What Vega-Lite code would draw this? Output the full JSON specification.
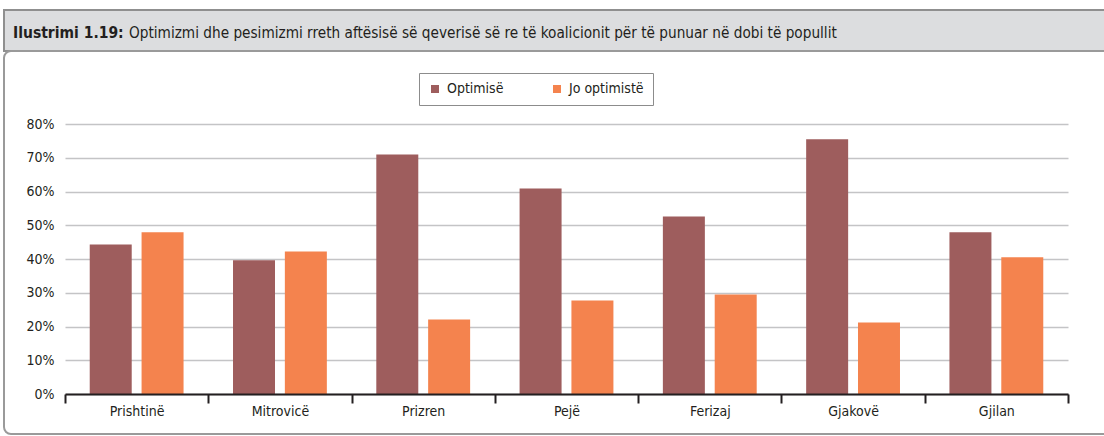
{
  "$schema": "https://vega.github.io/schema/vega-lite/v6.json",
  "background": "white",
  "padding": {"left": 3, "top": 9, "right": 0, "bottom": 0},
  "spacing": 0,
  "bounds": "flush",
  "config": {"font": "DejaVu Sans Condensed", "concat": {"spacing": 0}},
  "vconcat": [
    {
      "width": 1110,
      "height": 41,
      "view": {"fill": "#dcdddf", "stroke": "#8f8f8f", "strokeWidth": 2},
      "data": {"values": [{"bold": "Ilustrimi 1.19:", "rest": "Optimizmi dhe pesimizmi rreth aftësisë së qeverisë së re të koalicionit për të punuar në dobi të popullit"}]},
      "layer": [
        {
          "mark": {"type": "text", "x": 9, "y": 28, "align": "left", "baseline": "alphabetic", "font": "DejaVu Sans Condensed", "fontSize": 15.5, "fontWeight": "bold", "color": "#231f20"},
          "encoding": {"text": {"field": "bold"}}
        },
        {
          "mark": {"type": "text", "x": 125, "y": 28, "align": "left", "baseline": "alphabetic", "font": "DejaVu Sans Condensed", "fontSize": 15.2, "fontWeight": "normal", "color": "#231f20"},
          "encoding": {"text": {"field": "rest"}}
        }
      ]
    },
    {
      "width": 1110,
      "height": 383,
      "view": {"fill": "white", "stroke": "#9a9a9a", "strokeWidth": 2, "cornerRadius": 7},
      "data": {"values": [
        {"city": "Prishtinë", "series": "Optimisë", "value": 44.3},
        {"city": "Prishtinë", "series": "Jo optimistë", "value": 47.9},
        {"city": "Mitrovicë", "series": "Optimisë", "value": 39.6},
        {"city": "Mitrovicë", "series": "Jo optimistë", "value": 42.2},
        {"city": "Prizren", "series": "Optimisë", "value": 71.0},
        {"city": "Prizren", "series": "Jo optimistë", "value": 22.1},
        {"city": "Pejë", "series": "Optimisë", "value": 60.9},
        {"city": "Pejë", "series": "Jo optimistë", "value": 27.7},
        {"city": "Ferizaj", "series": "Optimisë", "value": 52.6},
        {"city": "Ferizaj", "series": "Jo optimistë", "value": 29.5},
        {"city": "Gjakovë", "series": "Optimisë", "value": 75.5},
        {"city": "Gjakovë", "series": "Jo optimistë", "value": 21.2},
        {"city": "Gjilan", "series": "Optimisë", "value": 47.9},
        {"city": "Gjilan", "series": "Jo optimistë", "value": 40.5}
      ]},
      "mark": {"type": "bar"},
      "encoding": {
        "x": {
          "field": "city", "type": "nominal",
          "sort": ["Prishtinë", "Mitrovicë", "Prizren", "Pejë", "Ferizaj", "Gjakovë", "Gjilan"],
          "scale": {"range": [61, 1064], "paddingInner": 0, "paddingOuter": 0},
          "axis": {
            "title": null, "orient": "bottom", "offset": -40, "zindex": 1,
            "domainColor": "#231f20", "domainWidth": 2,
            "tickColor": "#231f20", "tickWidth": 2, "tickSize": 9, "tickBand": "extent",
            "labelPadding": 1, "labelAngle": 0, "labelFontSize": 14, "labelColor": "#231f20",
            "labelFont": "DejaVu Sans Condensed", "grid": false
          }
        },
        "xOffset": {
          "field": "series", "type": "nominal",
          "sort": ["Optimisë", "Jo optimistë"],
          "scale": {"paddingInner": 0.19, "paddingOuter": 0.477}
        },
        "y": {
          "field": "value", "type": "quantitative",
          "scale": {"domain": [0, 80], "range": [343, 73], "nice": false, "zero": true},
          "axis": {
            "title": null, "orient": "left", "offset": -61, "zindex": 0,
            "values": [0, 10, 20, 30, 40, 50, 60, 70, 80],
            "labelExpr": "datum.value + '%'",
            "domain": false, "ticks": false, "tickSize": 0, "labelPadding": 11,
            "labelFontSize": 14, "labelColor": "#231f20", "labelFont": "DejaVu Sans Condensed",
            "grid": true, "gridColor": "#c4c4c6", "gridWidth": 1.5
          }
        },
        "color": {
          "field": "series", "type": "nominal",
          "sort": ["Optimisë", "Jo optimistë"],
          "scale": {"domain": ["Optimisë", "Jo optimistë"], "range": ["#9e5d5d", "#f4834e"]},
          "legend": {
            "title": null, "orient": "none", "legendX": 415, "legendY": 63,
            "direction": "horizontal", "strokeColor": "#8c8c8c", "fillColor": "white",
            "padding": 9, "symbolType": "square", "symbolSize": 64, "symbolStrokeWidth": 0,
            "labelFontSize": 14, "labelFont": "DejaVu Sans Condensed", "labelColor": "#231f20",
            "labelOffset": 5, "columnPadding": 46
          }
        }
      }
    }
  ]
}
